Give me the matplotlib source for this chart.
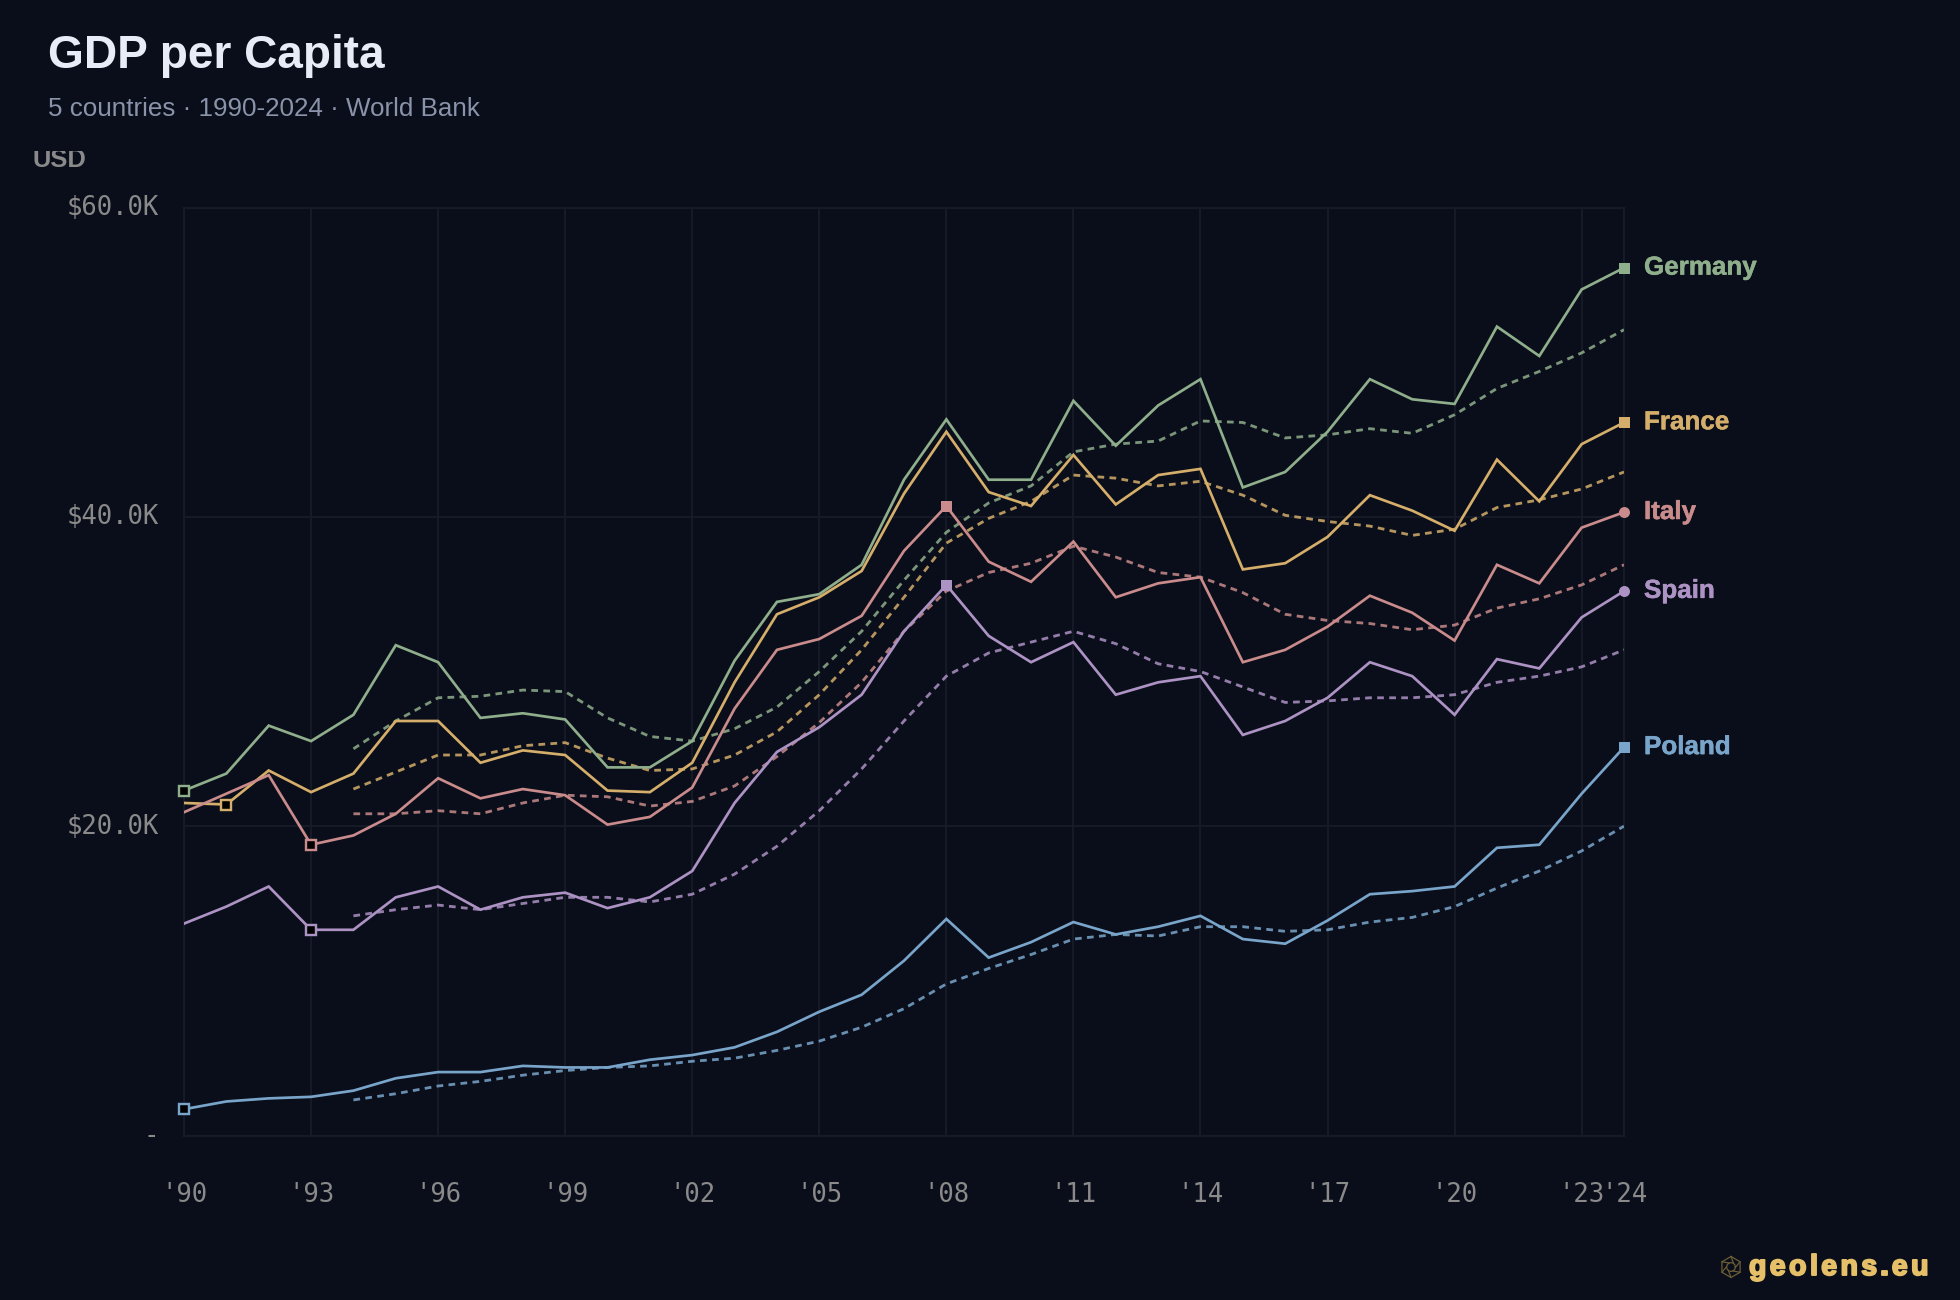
import numpy as np
import matplotlib
matplotlib.use("Agg")
import matplotlib.pyplot as plt
import matplotlib.patheffects as pe
from matplotlib.lines import Line2D
from matplotlib.transforms import Bbox, ScaledTranslation

W, H = 1960, 1300
BG = "#0a0e1a"
GRID = "#181c28"
TICK = "#8a8a8a"

years = list(range(1990, 2025))
ma_years = list(range(1994, 2025))

germany = [22.3, 23.4, 26.5, 25.5, 27.2, 31.7, 30.6, 27.0, 27.3, 26.9, 23.8, 23.8, 25.5, 30.7, 34.5, 35.0, 36.9, 42.4,
           46.3, 42.4, 42.4, 47.5, 44.6, 47.2, 48.9, 41.9, 42.9, 45.5, 48.9, 47.6, 47.3, 52.3, 50.4, 54.7, 56.1]
france = [21.5, 21.4, 23.6, 22.2, 23.4, 26.8, 26.8, 24.1, 24.9, 24.6, 22.3, 22.2, 24.1, 29.3, 33.7, 34.8, 36.5, 41.5,
          45.5, 41.6, 40.7, 44.0, 40.8, 42.7, 43.1, 36.6, 37.0, 38.7, 41.4, 40.4, 39.1, 43.7, 41.0, 44.7, 46.1]
italy = [20.9, 22.1, 23.3, 18.8, 19.4, 20.8, 23.1, 21.8, 22.4, 22.0, 20.1, 20.6, 22.5, 27.6, 31.4, 32.1, 33.6, 37.8,
         40.7, 37.1, 35.8, 38.4, 34.8, 35.7, 36.1, 30.6, 31.4, 32.9, 34.9, 33.8, 32.0, 36.9, 35.7, 39.3, 40.3]
spain = [13.7, 14.8, 16.1, 13.3, 13.3, 15.4, 16.1, 14.6, 15.4, 15.7, 14.7, 15.4, 17.1, 21.5, 24.8, 26.4, 28.5, 32.6,
         35.6, 32.3, 30.6, 31.9, 28.5, 29.3, 29.7, 25.9, 26.8, 28.3, 30.6, 29.7, 27.2, 30.8, 30.2, 33.5, 35.2]
poland = [1.7, 2.2, 2.4, 2.5, 2.9, 3.7, 4.1, 4.1, 4.5, 4.4, 4.4, 4.9, 5.2, 5.7, 6.7, 8.0, 9.1, 11.3,
          14.0, 11.5, 12.5, 13.8, 13.0, 13.5, 14.2, 12.7, 12.4, 13.9, 15.6, 15.8, 16.1, 18.6, 18.8, 22.1, 25.1]

# five year averages, from 1994 on
germany_ma = [25.0, 26.8, 28.3, 28.4, 28.8, 28.7, 27.0, 25.8, 25.5, 26.3, 27.7, 30.0, 32.6, 35.9, 39.0, 40.9, 42.0,
              44.2, 44.7, 44.9, 46.2, 46.1, 45.1, 45.3, 45.7, 45.4, 46.6, 48.3, 49.4, 50.6, 52.1]
france_ma = [22.4, 23.5, 24.6, 24.6, 25.2, 25.4, 24.4, 23.6, 23.7, 24.6, 26.1, 28.5, 31.4, 34.8, 38.3, 39.9, 41.0,
             42.7, 42.5, 42.0, 42.3, 41.4, 40.1, 39.7, 39.4, 38.8, 39.2, 40.6, 41.1, 41.8, 42.9]
italy_ma = [20.8, 20.8, 21.0, 20.8, 21.5, 22.0, 21.9, 21.3, 21.6, 22.6, 24.5, 26.7, 29.3, 32.6, 35.2, 36.4, 37.0,
            38.1, 37.4, 36.4, 36.1, 35.1, 33.7, 33.3, 33.1, 32.7, 33.0, 34.1, 34.7, 35.6, 36.9]
spain_ma = [14.2, 14.6, 14.9, 14.6, 15.0, 15.4, 15.4, 15.1, 15.6, 16.9, 18.7, 21.0, 23.7, 26.8, 29.7, 31.2, 31.9,
            32.6, 31.8, 30.5, 30.0, 29.0, 28.0, 28.1, 28.3, 28.3, 28.5, 29.3, 29.7, 30.3, 31.4]
poland_ma = [2.3, 2.7, 3.2, 3.5, 3.9, 4.2, 4.4, 4.5, 4.8, 5.0, 5.5, 6.1, 7.0, 8.2, 9.8, 10.8, 11.7,
             12.7, 13.0, 12.9, 13.5, 13.5, 13.2, 13.3, 13.8, 14.1, 14.8, 16.0, 17.1, 18.4, 20.0]

names = ["Germany", "France", "Italy", "Spain", "Poland"]
series = [germany, france, italy, spain, poland]
averages = [germany_ma, france_ma, italy_ma, spain_ma, poland_ma]
colors = ["#8fae8b", "#d4ae6a", "#c98b8b", "#ad92c4", "#7aa5cb"]
# year of the peak marker, and whether the last point is a circle
peak_years = [2024, 2024, 2008, 2008, 2024]
end_circle = [False, False, True, True, False]

xtick_years = list(range(1990, 2024, 3)) + [2024]
ytick_values = [0, 20, 40, 60]
ytick_labels = ["-", "$20.0K", "$40.0K", "$60.0K"]

SANS = "Liberation Sans"
MONO = "DejaVu Sans Mono"


def px(size):
    return size * 72 / 100


def put_text(x, y, s, size, color, weight="normal", **kw):
    # x, y in image pixels from the top left; y is the baseline
    return fig.text(x / W, 1 - y / H, s, fontsize=px(size), color=color, fontweight=weight,
                    family=SANS, va="baseline", **kw)


fig = plt.figure(figsize=(W / 100, H / 100), dpi=100, facecolor=BG)
ax = fig.add_axes([184 / W, (H - 1135.5) / H, 1440 / W, 928 / H], facecolor=BG)
ax.set_xlim(1990, 2024)
ax.set_ylim(0, 60)

for s in ax.spines.values():
    s.set_color(GRID)
    s.set_linewidth(px(1.8))
ax.grid(True, color=GRID, linewidth=px(1.8))
ax.set_axisbelow(True)

ax.set_xticks(xtick_years)
ax.set_xticklabels(["'" + str(y)[2:] for y in xtick_years])
ax.set_yticks(ytick_values)
ax.set_yticklabels(ytick_labels)
ax.tick_params(axis="x", length=0, pad=px(47), labelsize=px(25.6), labelcolor=TICK)
ax.tick_params(axis="y", length=0, pad=px(25), labelsize=px(25.6), labelcolor=TICK)
for lab in ax.get_xticklabels() + ax.get_yticklabels():
    lab.set_family(MONO)
# nudge the value labels up a little off their gridlines
nudge = ScaledTranslation(0, px(2.5) / 72, fig.dpi_scale_trans)
for lab in ax.get_yticklabels():
    lab.set_transform(lab.get_transform() + nudge)

for name, vals, ma, col, peak, circ in zip(names, series, averages, colors, peak_years, end_circle):
    ax.plot(ma_years, ma, color=col, linewidth=px(2.8), dashes=(2.4, 1.9), alpha=0.85, zorder=3)
    ax.plot(years, vals, color=col, linewidth=px(2.7), zorder=4, solid_joinstyle="miter")

    # lowest year gets a hollow square
    low = int(np.argmin(vals))
    ax.plot(years[low], vals[low], marker="s", markersize=px(10), markerfacecolor="black",
            markeredgecolor=col, markeredgewidth=px(2.4), clip_on=False, zorder=5)

    # peak marker
    top = years.index(peak)
    ax.plot(years[top], vals[top], marker="s", markersize=px(11), color=col,
            markeredgewidth=0, clip_on=False, zorder=5)
    if circ:
        ax.plot(years[-1], vals[-1], marker="o", markersize=px(11), color=col,
                markeredgewidth=0, clip_on=False, zorder=5)

    label = ax.annotate(name, (years[-1], vals[-1]), xytext=(px(20), px(-6.8)), textcoords="offset points",
                        color=col, fontsize=px(26), fontweight="bold", family=SANS,
                        va="baseline", ha="left", annotation_clip=False)
    label.set_path_effects([pe.withStroke(linewidth=px(0.5), foreground=col)])

put_text(47.5, 68, "GDP per Capita", 46, "#e8ecf6", "bold")
put_text(48, 116, "5 countries · 1990-2024 · World Bank", 26, "#8a93a9")

# the unit label is cut off along its top edge
usd = put_text(32, 167, "USD", 25.5, "#8a8a8a", "bold")
usd.set_clip_box(Bbox([[0, 0], [W, H - 151]]))
usd.set_clip_on(True)

# watermark: small hexagon icon, then spaced heavy lettering
icon = fig.add_axes([0, 0, 1, 1], facecolor="none")
icon.set_xlim(0, W)
icon.set_ylim(H, 0)
icon.axis("off")
cx, cy, r = 1731, 1267, 10.5
angles = np.radians(np.arange(-90, 300, 60))
hx = cx + r * np.cos(angles)
hy = cy + r * np.sin(angles)
icon_col = "#6e5f36"
icon.add_line(Line2D(hx, hy, color=icon_col, linewidth=px(1.2)))
for i in range(6):
    a = angles[i] + np.radians(35)
    icon.add_line(Line2D([hx[i], cx + 0.42 * r * np.cos(a)], [hy[i], cy + 0.42 * r * np.sin(a)],
                         color=icon_col, linewidth=px(1.2)))
inner = np.radians(np.arange(0, 361, 30))
icon.add_line(Line2D(cx + 0.42 * r * np.cos(inner), cy + 0.42 * r * np.sin(inner), color=icon_col, linewidth=px(1.2)))

fig.canvas.draw()
renderer = fig.canvas.get_renderer()
x = 1749
for ch in "geolens.eu":
    t = put_text(x, 1275, ch, 28.5, "#e5c069", "bold")
    t.set_path_effects([pe.withStroke(linewidth=px(1.9), foreground="#e5c069")])
    box = t.get_window_extent(renderer)
    x += box.width + 3.4

fig.savefig("out.png", dpi=100, facecolor=BG)
